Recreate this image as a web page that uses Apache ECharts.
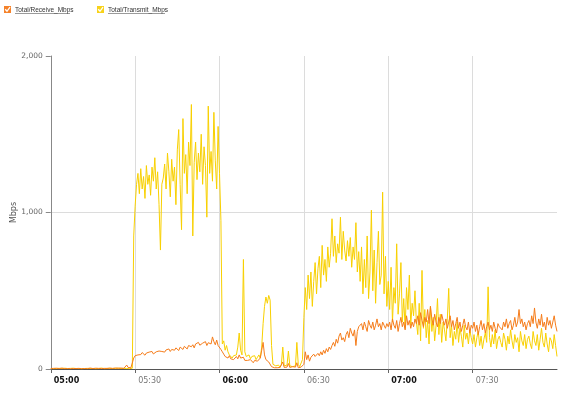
<!DOCTYPE html>
<html>
<head>
<meta charset="utf-8">
<script src="https://cdn.jsdelivr.net/npm/echarts@6/dist/echarts.min.js"></script>
<style>html,body{margin:0;padding:0;background:#fff;}#c{width:578px;height:393px;}</style>
</head>
<body>
<div id="c"></div>
<script>
// Samples every 30 seconds from 05:00 to 08:00 (minutes after 05:00 = index * 0.5)
var stepMinutes = 0.5;
var seriesNames = ['Total/Receive_Mbps', 'Total/Transmit_Mbps'];
var yTicks = ['0', '1,000', '2,000'];
var xTickLabels = ['05:00', '05:30', '06:00', '06:30', '07:00', '07:30', '08:00'];

var receive = [
  3,2,4,3,5,2,3,4,6,3,2,4,3,5,2,4,3,6,3,2,
  4,3,2,5,3,4,2,3,6,4,3,2,5,3,4,2,3,5,4,3,
  4,3,5,2,4,3,6,4,5,8,6,5,4,12,25,10,6,8,15,70,
  85,95,90,100,92,105,98,88,102,95,108,100,112,96,105,110,100,115,105,112,
  118,108,122,115,128,112,125,130,120,135,126,118,140,130,125,145,135,128,150,138,
  142,155,135,160,148,170,152,145,165,158,175,150,168,180,160,205,175,155,185,150,
  140,125,110,95,80,90,70,85,65,75,60,70,80,65,90,70,60,75,55,65,
  55,45,60,50,40,55,45,50,60,70,120,170,90,60,50,45,40,15,10,8,
  10,8,12,10,15,45,10,8,12,35,10,8,15,10,12,40,8,10,12,15,
  30,110,60,90,50,75,65,95,80,70,100,85,110,90,120,100,130,110,140,125,
  150,170,145,190,165,210,230,185,200,175,220,240,200,260,230,210,250,150,240,270,
  260,290,250,300,270,240,310,280,260,300,250,280,320,270,290,250,300,280,260,290,
  270,300,250,320,280,260,310,240,290,330,270,300,250,340,280,310,260,300,270,320,
  290,340,280,360,310,270,330,300,380,290,400,320,280,350,300,270,330,290,350,310,
  280,320,260,300,340,270,310,250,290,330,260,300,240,280,320,270,250,300,230,280,
  260,300,240,280,220,270,310,250,290,230,270,300,250,280,240,300,260,230,290,270,
  280,250,300,270,320,260,290,310,250,280,330,270,300,380,290,320,270,300,250,290,
  310,270,340,290,390,300,260,320,280,350,270,300,250,330,280,310,260,300,340,280,
  240
];

var transmit = [
  3,4,2,5,3,2,4,6,3,2,5,4,3,2,4,3,5,2,3,4,
  3,5,2,4,3,6,4,2,3,5,3,4,2,5,3,4,6,3,2,4,
  3,4,5,2,3,6,4,3,5,4,3,2,4,5,3,6,2,4,5,850,
  1040,1180,1250,1120,1280,1150,1230,1090,1300,1180,1240,1110,1290,1200,1350,1150,1260,1050,760,1180,
  1220,1310,1150,1380,1260,1100,1340,1200,1290,1050,1400,1530,1180,890,1600,1250,1370,1120,1450,1300,
  1690,850,1320,1450,1210,1380,1260,1500,1180,1420,1300,970,1680,1250,1390,1200,1640,1330,1150,1550,
  1250,950,160,180,120,150,110,90,80,70,85,75,90,140,230,120,90,700,110,80,
  75,90,65,80,70,85,60,75,90,70,140,290,400,460,420,470,440,150,30,20,
  20,15,25,10,30,140,20,15,25,115,20,30,15,25,20,170,30,15,20,60,
  330,520,380,600,450,620,400,560,680,480,640,720,520,790,600,700,560,780,650,740,
  960,720,850,680,800,740,970,700,880,760,690,820,720,840,650,780,700,935,620,750,
  560,780,480,700,520,850,450,620,1015,500,760,420,680,880,540,600,1130,480,720,400,
  560,380,650,300,520,420,800,350,480,680,300,450,260,520,380,600,280,420,340,500,
  300,220,420,180,630,260,380,200,310,160,400,240,330,180,280,450,220,350,170,300,
  250,180,320,515,200,280,150,240,190,300,170,260,210,140,280,190,230,160,250,200,
  160,220,140,200,240,150,210,130,190,230,170,525,200,140,220,160,250,130,190,210,
  170,140,230,190,120,210,160,250,180,130,220,170,200,110,240,180,150,220,130,190,
  210,160,130,240,180,150,220,120,190,260,170,140,230,160,110,200,180,130,220,150,
  80
];

function pairs(arr) {
  return arr.map(function (v, i) { return [i * stepMinutes, v]; });
}

var FONT = 'DejaVu Sans';
var chart = echarts.init(document.getElementById('c'), null, {renderer: 'canvas'});

function legendItem(x, color, label, underlineLen) {
  return [
    {type: 'rect', shape: {x: x, y: 6, width: 7, height: 7}, style: {fill: color}, z: 10},
    {type: 'polyline', shape: {points: [[x + 1.2, 9.3], [x + 3, 11.3], [x + 6, 7.2]]},
      style: {stroke: '#ffffff', lineWidth: 1.3, fill: 'none'}, z: 11},
    {type: 'text', x: x + 11, y: 6.5, style: {text: label, fill: '#333', font: '6.5px "Liberation Sans"'}, z: 10},
    {type: 'line', shape: {x1: x + 11, y1: 13.5, x2: x + 11 + underlineLen, y2: 13.5},
      style: {stroke: '#555', lineWidth: 0.6}, z: 10}
  ];
}

var option = {
  animation: false,
  backgroundColor: '#fff',
  grid: {left: 50.75, right: 21, top: 56, bottom: 24, containLabel: false, outerBoundsMode: 'none'},
  graphic: legendItem(4, '#F5822A', seriesNames[0], 55).concat(legendItem(97, '#F8D21A', seriesNames[1], 57)),
  xAxis: {
    type: 'value', min: 0, max: 180, interval: 30,
    axisLine: {show: true, lineStyle: {color: '#555', width: 1}},
    axisTick: {show: true, length: 4, lineStyle: {color: '#666'}},
    splitLine: {show: true, showMinLine: false, showMaxLine: false, lineStyle: {color: '#dcdcdc', width: 1}},
    axisLabel: {
      margin: 8, align: 'left', padding: [0, 0, 0, 3],
      showMaxLabel: false,
      formatter: function (v) {
        var lbl = xTickLabels[Math.round(v / 30)];
        return (v % 60 === 0) ? '{b|' + lbl + '}' : '{n|' + lbl + '}';
      },
      rich: {
        b: {fontFamily: FONT, fontSize: 8, fontWeight: 'bold', color: '#111'},
        n: {fontFamily: FONT, fontSize: 8, color: '#777'}
      }
    }
  },
  yAxis: {
    type: 'value', min: 0, max: 2000, interval: 1000,
    name: 'Mbps', nameLocation: 'middle', nameGap: 33, nameRotate: 90, nameMoveOverlap: false,
    nameTextStyle: {fontFamily: FONT, fontSize: 8, color: '#555'},
    axisLine: {show: true, lineStyle: {color: '#888'}},
    axisTick: {show: true, length: 5, lineStyle: {color: '#888'}},
    splitLine: {show: true, showMaxLine: false, lineStyle: {color: '#dcdcdc'}},
    axisLabel: {
      margin: 8, fontFamily: FONT, fontSize: 7.5, color: '#666',
      formatter: function (v) { return yTicks[Math.round(v / 1000)]; }
    }
  },
  series: [
    {name: seriesNames[1], type: 'line', data: pairs(transmit), showSymbol: false, symbol: 'none',
      sampling: null, lineStyle: {color: '#F8D000', width: 1}, z: 2},
    {name: seriesNames[0], type: 'line', data: pairs(receive), showSymbol: false, symbol: 'none',
      sampling: null, lineStyle: {color: '#F57C1A', width: 1}, z: 3}
  ]
};
chart.setOption(option);
</script>
</body>
</html>
